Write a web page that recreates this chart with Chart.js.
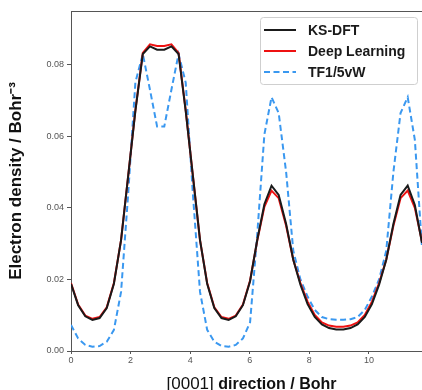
<!DOCTYPE html>
<html>
<head>
<meta charset="utf-8">
<script src="https://cdn.jsdelivr.net/npm/chart.js@4.4.1/dist/chart.umd.min.js"></script>
<style>
  html, body { margin: 0; padding: 0; background: #fff; }
  #wrap { width: 422px; height: 390px; }
</style>
</head>
<body>
<div id="wrap"><canvas id="densityChart" width="422" height="390"></canvas></div>
<script>
// positions along [0001] (Bohr)
const positions = [
  0.00, 0.24, 0.48, 0.72, 0.96, 1.20, 1.44, 1.68, 1.92, 2.16,
  2.41, 2.65, 2.89, 3.13, 3.37, 3.61, 3.85, 4.09, 4.33, 4.57,
  4.81, 5.05, 5.29, 5.53, 5.77, 6.01, 6.25, 6.49, 6.73, 6.97,
  7.22, 7.46, 7.70, 7.94, 8.18, 8.42, 8.66, 8.90, 9.14, 9.38,
  9.62, 9.86, 10.10, 10.34, 10.58, 10.82, 11.06, 11.30, 11.54, 11.78
];

const ksDft = [
  0.0188, 0.0128, 0.0097, 0.0087, 0.0092, 0.0120, 0.0188, 0.0310, 0.0490, 0.0670,
  0.0830, 0.0851, 0.0842, 0.0842, 0.0851, 0.0830, 0.0670, 0.0490, 0.0310, 0.0188,
  0.0120, 0.0092, 0.0087, 0.0097, 0.0128, 0.0195, 0.0310, 0.0410, 0.0462, 0.0436,
  0.0355, 0.0255, 0.0185, 0.0131, 0.0095, 0.0074, 0.0064, 0.0060, 0.0060, 0.0064,
  0.0074, 0.0095, 0.0131, 0.0185, 0.0255, 0.0355, 0.0436, 0.0462, 0.0408, 0.0302
];

const deepLearning = [
  0.0190, 0.0130, 0.0099, 0.0090, 0.0095, 0.0122, 0.0190, 0.0310, 0.0490, 0.0672,
  0.0833, 0.0857, 0.0852, 0.0852, 0.0857, 0.0833, 0.0672, 0.0490, 0.0310, 0.0190,
  0.0122, 0.0095, 0.0090, 0.0099, 0.0130, 0.0197, 0.0308, 0.0403, 0.0448, 0.0427,
  0.0350, 0.0255, 0.0190, 0.0138, 0.0101, 0.0080, 0.0071, 0.0068, 0.0068, 0.0071,
  0.0080, 0.0101, 0.0138, 0.0190, 0.0255, 0.0350, 0.0427, 0.0448, 0.0400, 0.0305
];

const tf15vw = [
  0.0073, 0.0035, 0.0017, 0.0012, 0.0014, 0.0026, 0.0059, 0.0165, 0.0440, 0.0750,
  0.0830, 0.0730, 0.0627, 0.0627, 0.0730, 0.0830, 0.0750, 0.0440, 0.0165, 0.0059,
  0.0026, 0.0014, 0.0012, 0.0017, 0.0035, 0.0080, 0.0325, 0.0605, 0.0709, 0.0665,
  0.0500, 0.0280, 0.0200, 0.0152, 0.0115, 0.0095, 0.0089, 0.0087, 0.0087, 0.0089,
  0.0095, 0.0115, 0.0152, 0.0200, 0.0280, 0.0500, 0.0665, 0.0709, 0.0590, 0.0290
];

const seriesLabels = ['KS-DFT', 'Deep Learning', 'TF1/5vW'];
const xTicks = [0, 2, 4, 6, 8, 10];
const yTicks = [0, 0.02, 0.04, 0.06, 0.08];

const toPoints = values => values.map((v, i) => ({ x: positions[i], y: v }));

// framed legend, top spine and axis titles
const decorations = {
  id: 'decorations',
  afterDraw(chart) {
    const ctx = chart.ctx;
    const area = chart.chartArea;
    ctx.save();

    ctx.strokeStyle = '#555';
    ctx.lineWidth = 1;
    ctx.beginPath();
    ctx.moveTo(area.left, area.top + 0.5);
    ctx.lineTo(area.right, area.top + 0.5);
    ctx.stroke();

    // legend box
    ctx.beginPath();
    ctx.roundRect(260.5, 17.5, 157, 67, 3);
    ctx.fillStyle = 'rgba(255,255,255,0.9)';
    ctx.fill();
    ctx.strokeStyle = '#cfcfcf';
    ctx.stroke();

    ctx.font = 'bold 14px "Liberation Sans", Arial, sans-serif';
    ctx.textBaseline = 'middle';
    ctx.textAlign = 'left';
    chart.data.datasets.forEach((ds, i) => {
      const y = 30 + i * 21;
      ctx.strokeStyle = ds.borderColor;
      ctx.lineWidth = ds.borderWidth;
      ctx.setLineDash(ds.borderDash || []);
      ctx.beginPath();
      ctx.moveTo(264, y);
      ctx.lineTo(296, y);
      ctx.stroke();
      ctx.setLineDash([]);
      ctx.fillStyle = '#1a1a1a';
      ctx.fillText(ds.label, 308, y + 1);
    });

    // y title
    ctx.save();
    ctx.translate(21, (area.top + area.bottom) / 2);
    ctx.rotate(-Math.PI / 2);
    ctx.font = 'bold 17px "Liberation Sans", Arial, sans-serif';
    ctx.textAlign = 'center';
    ctx.textBaseline = 'alphabetic';
    ctx.fillStyle = '#111';
    ctx.fillText('Electron density / Bohr\u207B\u00B3', 0, 0);
    ctx.restore();

    // x title
    const part1 = '[0001]';
    const part2 = ' direction / Bohr';
    ctx.textBaseline = 'alphabetic';
    ctx.fillStyle = '#111';
    ctx.font = '17px "Liberation Sans", Arial, sans-serif';
    const w1 = ctx.measureText(part1).width;
    ctx.font = 'bold 16px "Liberation Sans", Arial, sans-serif';
    const w2 = ctx.measureText(part2).width;
    const x0 = 251.5 - (w1 + w2) / 2;
    ctx.font = '17px "Liberation Sans", Arial, sans-serif';
    ctx.fillText(part1, x0, 389);
    ctx.font = 'bold 16px "Liberation Sans", Arial, sans-serif';
    ctx.fillText(part2, x0 + w1, 389);

    ctx.restore();
  }
};

new Chart(document.getElementById('densityChart'), {
  type: 'line',
  data: {
    datasets: [
      { label: seriesLabels[0], data: toPoints(ksDft), borderColor: '#1a1a1a', borderWidth: 2 },
      { label: seriesLabels[1], data: toPoints(deepLearning), borderColor: '#ee1111', borderWidth: 2 },
      { label: seriesLabels[2], data: toPoints(tf15vw), borderColor: '#3a98f0', borderWidth: 2, borderDash: [6, 3.5] }
    ]
  },
  options: {
    responsive: false,
    animation: false,
    devicePixelRatio: 1,
    layout: { padding: { top: 11, left: 0, right: 0, bottom: 0 } },
    elements: {
      point: { radius: 0 },
      line: { tension: 0, fill: false, borderJoinStyle: 'miter' }
    },
    plugins: {
      legend: { display: false },
      tooltip: { enabled: false }
    },
    scales: {
      x: {
        type: 'linear',
        min: 0,
        max: 11.78,
        afterBuildTicks: axis => { axis.ticks = xTicks.map(v => ({ value: v })); },
        afterFit: axis => { axis.height = 39; },
        grid: { drawOnChartArea: false, drawTicks: true, tickLength: 3, color: '#555' },
        border: { display: true, color: '#555', width: 1 },
        ticks: {
          padding: 1,
          maxRotation: 0,
          color: '#555',
          font: { family: '"Liberation Sans", Arial, sans-serif', size: 9 },
          callback: v => String(v)
        }
      },
      y: {
        type: 'linear',
        min: 0,
        max: 0.095,
        afterBuildTicks: axis => { axis.ticks = yTicks.map(v => ({ value: v })); },
        afterFit: axis => { axis.width = 71; },
        grid: { drawOnChartArea: false, drawTicks: true, tickLength: 4, color: '#555' },
        border: { display: true, color: '#555', width: 1 },
        ticks: {
          padding: 3,
          color: '#555',
          font: { family: '"Liberation Sans", Arial, sans-serif', size: 9 },
          callback: v => v.toFixed(2)
        }
      }
    }
  },
  plugins: [decorations]
});
</script>
</body>
</html>
